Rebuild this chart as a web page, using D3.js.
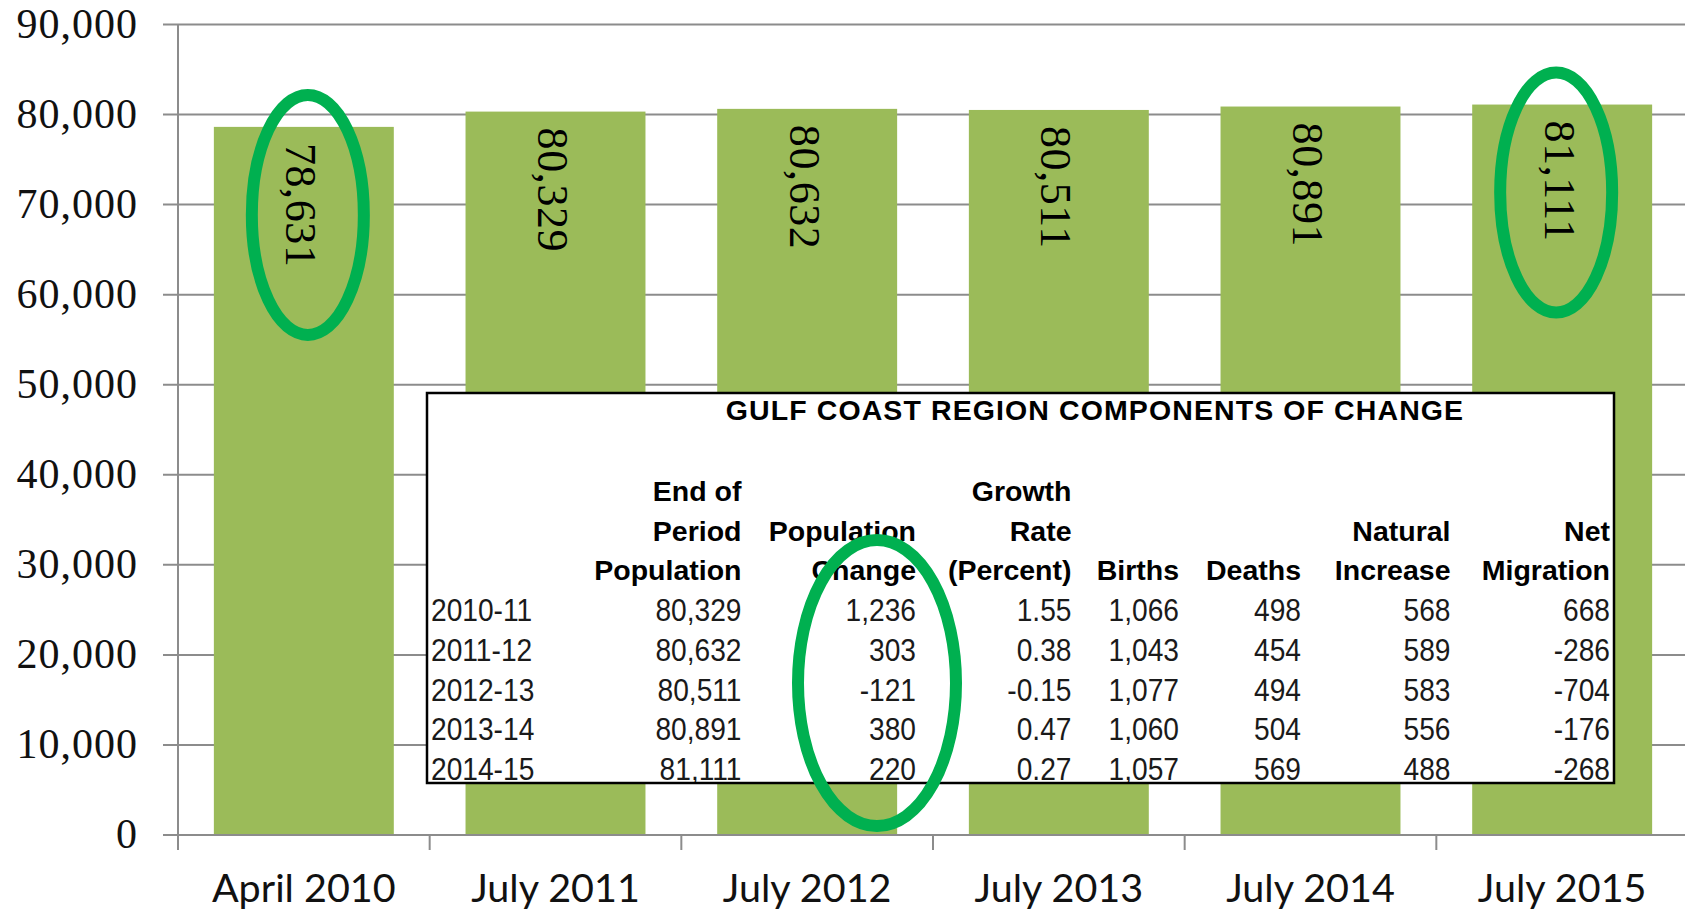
<!DOCTYPE html>
<html>
<head>
<meta charset="utf-8">
<script src="https://cdn.jsdelivr.net/npm/d3@7"></script>
<style>
  html, body { margin: 0; padding: 0; background: #fff; }
  svg { display: block; }
</style>
</head>
<body>
<svg id="chart" width="1685" height="911"></svg>
<script>
// ---------- DATA ----------
const categories = ["April 2010", "July 2011", "July 2012", "July 2013", "July 2014", "July 2015"];
const population = [78631, 80329, 80632, 80511, 80891, 81111];
const yTicks = [0, 10000, 20000, 30000, 40000, 50000, 60000, 70000, 80000, 90000];
const highlighted = ["April 2010", "July 2015"];

const tableTitle = "GULF COAST REGION COMPONENTS OF CHANGE";
const periods = ["2010-11", "2011-12", "2012-13", "2013-14", "2014-15"];
const endOfPeriodPop = [80329, 80632, 80511, 80891, 81111];
const popChange = [1236, 303, -121, 380, 220];
const growthRate = [1.55, 0.38, -0.15, 0.47, 0.27];
const births = [1066, 1043, 1077, 1060, 1057];
const deaths = [498, 454, 494, 504, 569];
const naturalIncrease = [568, 589, 583, 556, 488];
const netMigration = [668, -286, -704, -176, -268];
const headerEndPop = ["End of", "Period", "Population"];
const headerPopChange = ["", "Population", "Change"];
const headerGrowth = ["Growth", "Rate", "(Percent)"];
const headerBirths = ["", "", "Births"];
const headerDeaths = ["", "", "Deaths"];
const headerNatural = ["", "Natural", "Increase"];
const headerNet = ["", "Net", "Migration"];

// ---------- SETUP ----------
const svg = d3.select("#chart");
const locale = d3.formatLocale({decimal: ".", thousands: ",", grouping: [3], currency: ["$", ""], minus: "-"});
const fmtInt = locale.format(",");
const fmt2 = locale.format(".2f");

const plot = {left: 178, right: 1688, top: 24.5, bottom: 835};
const x = d3.scaleBand().domain(categories).range([plot.left, plot.right])
  .paddingInner(0.285).paddingOuter(0.1425);
const y = d3.scaleLinear().domain([0, 90000]).range([plot.bottom, plot.top]);

const gridColor = "#8c8c8c";
const barColor = "#9bbb59";
const ringColor = "#00b050";

// gridlines
svg.append("g").selectAll("line").data(yTicks).join("line")
  .attr("x1", plot.left - 15).attr("x2", 1685)
  .attr("y1", d => y(d)).attr("y2", d => y(d))
  .attr("stroke", gridColor).attr("stroke-width", 2);

// y axis line
svg.append("line").attr("x1", plot.left).attr("x2", plot.left)
  .attr("y1", y(90000)).attr("y2", plot.bottom + 15)
  .attr("stroke", gridColor).attr("stroke-width", 2);

// y tick labels
svg.append("g").selectAll("text").data(yTicks).join("text")
  .attr("x", 138).attr("y", d => y(d) + 13)
  .attr("text-anchor", "end")
  .attr("font-family", "'Liberation Serif', 'DejaVu Serif', serif")
  .attr("font-size", 42).attr("letter-spacing", 1).attr("fill", "#111")
  .text(d => fmtInt(d));

// bars
svg.append("g").selectAll("rect").data(categories).join("rect")
  .attr("x", d => x(d)).attr("width", x.bandwidth())
  .attr("y", (d, i) => y(population[i]))
  .attr("height", (d, i) => y(0) - y(population[i]))
  .attr("fill", barColor);

// x axis ticks at band boundaries
const step = x.step();
const boundaries = d3.range(categories.length + 1).map(i => plot.left + i * step);
svg.append("g").selectAll("line").data(boundaries).join("line")
  .attr("x1", d => d).attr("x2", d => d)
  .attr("y1", plot.bottom).attr("y2", plot.bottom + 15)
  .attr("stroke", gridColor).attr("stroke-width", 2);

// x axis line (baseline)
svg.append("line").attr("x1", plot.left - 15).attr("x2", 1685)
  .attr("y1", plot.bottom).attr("y2", plot.bottom)
  .attr("stroke", gridColor).attr("stroke-width", 2);

// x labels
svg.append("g").selectAll("text").data(categories).join("text")
  .attr("x", d => x(d) + x.bandwidth() / 2).attr("y", 902)
  .attr("text-anchor", "middle")
  .attr("font-family", "Lato, 'Liberation Sans', sans-serif")
  .attr("font-size", 39.5).attr("fill", "#111")
  .text(d => d);

// rotated data labels
svg.append("g").selectAll("text").data(categories).join("text")
  .attr("transform", (d, i) => `translate(${x(d) + x.bandwidth() / 2 - 3},${y(population[i]) + 16}) rotate(90)`)
  .attr("text-anchor", "start").attr("dy", "0.33em")
  .attr("font-family", "'Liberation Serif', serif")
  .attr("font-size", 44).attr("letter-spacing", 0.6).attr("fill", "#000")
  .text((d, i) => fmtInt(population[i]));

// ---------- TABLE ----------
const tb = {left: 427, top: 393, right: 1614, bottom: 783};
const tg = svg.append("g");
tg.append("rect").attr("x", tb.left).attr("y", tb.top)
  .attr("width", tb.right - tb.left).attr("height", tb.bottom - tb.top)
  .attr("fill", "#fff");

const clip = svg.append("defs").append("clipPath").attr("id", "tclip");
clip.append("rect").attr("x", tb.left).attr("y", tb.top)
  .attr("width", tb.right - tb.left).attr("height", tb.bottom - tb.top);
const tt = tg.append("g").attr("clip-path", "url(#tclip)");

tt.append("text").attr("x", 1095).attr("y", 420)
  .attr("text-anchor", "middle")
  .attr("font-family", "'Liberation Sans', Arial, sans-serif")
  .attr("font-weight", "bold").attr("font-size", 28.5).attr("letter-spacing", 1.1).attr("fill", "#000")
  .text(tableTitle);

const columns = [
  {right: 741.5, header: headerEndPop, values: endOfPeriodPop.map(fmtInt)},
  {right: 916, header: headerPopChange, values: popChange.map(fmtInt)},
  {right: 1071.5, header: headerGrowth, values: growthRate.map(fmt2)},
  {right: 1179, header: headerBirths, values: births.map(fmtInt)},
  {right: 1301, header: headerDeaths, values: deaths.map(fmtInt)},
  {right: 1450.5, header: headerNatural, values: naturalIncrease.map(fmtInt)},
  {right: 1610, header: headerNet, values: netMigration.map(fmtInt)}
];
const headerY = [501, 540.5, 580];
const rowY = periods.map((p, i) => 621 + i * 39.8);

const dataFont = "'Liberation Sans', Arial, sans-serif";
const narrow = 0.88;

columns.forEach(col => {
  tt.append("g").selectAll("text").data(col.header).join("text")
    .attr("x", col.right).attr("y", (d, i) => headerY[i])
    .attr("text-anchor", "end")
    .attr("font-family", "'Liberation Sans', Arial, sans-serif")
    .attr("font-weight", "bold").attr("font-size", 28.5).attr("fill", "#000")
    .text(d => d);
  tt.append("g").selectAll("text").data(col.values).join("text")
    .attr("transform", (d, i) => `translate(${col.right},${rowY[i]}) scale(${narrow},1)`)
    .attr("text-anchor", "end")
    .attr("font-family", dataFont).attr("font-size", 32).attr("fill", "#1a1a1a")
    .text(d => d);
});
tt.append("g").selectAll("text").data(periods).join("text")
  .attr("transform", (d, i) => `translate(431,${rowY[i]}) scale(${narrow},1)`)
  .attr("font-family", dataFont).attr("font-size", 32).attr("fill", "#1a1a1a")
  .text(d => d);

tg.append("rect").attr("x", tb.left).attr("y", tb.top)
  .attr("width", tb.right - tb.left).attr("height", tb.bottom - tb.top)
  .attr("fill", "none").attr("stroke", "#000").attr("stroke-width", 2.5);

// ---------- HIGHLIGHT RINGS ----------
const ringOffsets = [4, -6];  // hand-drawn rings sit slightly off the bar centres
const rings = svg.append("g").attr("fill", "none").attr("stroke", ringColor).attr("stroke-width", 12);
highlighted.forEach((c, k) => {
  const i = categories.indexOf(c);
  rings.append("ellipse")
    .attr("cx", x(c) + x.bandwidth() / 2 + ringOffsets[k])
    .attr("cy", y(population[i]) + 88)
    .attr("rx", 56).attr("ry", 120);
});
// ring around the Population Change column of the table
rings.append("ellipse")
  .attr("cx", columns[1].right - 39)
  .attr("cy", (headerY[2] + rowY[rowY.length - 1]) / 2 + 3)
  .attr("rx", 79).attr("ry", 143);
</script>
</body>
</html>
